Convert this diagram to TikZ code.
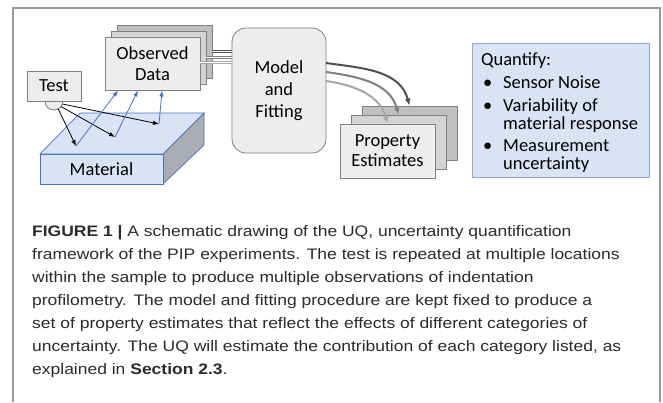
\documentclass[tikz,border=0pt]{standalone}
\usepackage{fontspec}
\setmainfont{Liberation Sans}
\newfontfamily\diagfont{Carlito}
\newfontfamily\capfont{Liberation Sans}[FakeStretch=1.15]
\usetikzlibrary{arrows.meta}
\definecolor{boxgray}{HTML}{EDEDED}
\definecolor{midgray}{HTML}{D4D4D4}
\definecolor{backgray}{HTML}{BFBFBF}
\definecolor{edgegray}{HTML}{7F7F7F}
\definecolor{paleblue}{HTML}{DAE3F3}
\definecolor{blueedge}{HTML}{8FAADC}
\definecolor{arrowblue}{HTML}{4472C4}
\definecolor{sidegray}{HTML}{A9ACB3}
\definecolor{captext}{HTML}{2B2B2B}
\definecolor{framegray}{HTML}{9A9A9A}
\definecolor{linkdark}{HTML}{505050}
\definecolor{linkmid}{HTML}{7F7F7F}
\definecolor{linklight}{HTML}{A6A6A6}
\begin{document}
\begin{tikzpicture}[x=1pt,y=-1pt,
  dfont/.style={font=\diagfont\fontsize{18.5}{22}\selectfont},
  gbox/.style={draw=edgegray, line width=0.8pt, fill=boxgray, dfont, align=center, inner sep=0pt},
  dtext/.style={dfont, anchor=base west, inner sep=0pt},
  captxt/.style={font=\capfont\fontsize{15.2}{23}\selectfont, text=captext, anchor=base west, inner sep=0pt},
  hitarrow/.style={draw=black, line width=0.8pt, -{Latex[length=6pt,width=4.5pt]}},
  obsarrow/.style={draw=arrowblue, line width=0.8pt, -{Latex[length=6pt,width=4.5pt]}},
  link/.style={double=white, line width=0.7pt, double distance=1.2pt},
  curvearrow/.style={line width=2pt, -{Latex[length=7pt,width=6pt]}}
]
\useasboundingbox (0,0) rectangle (663,402);
\fill[white] (0,0) rectangle (663,402);
% outer frame
\draw[framegray, line width=1.4pt] (13,402) -- (13,8) -- (660,8) -- (660,402);

% material block
\fill[paleblue, draw=arrowblue, line width=0.7pt] (40,154) -- (80,113) -- (204,113) -- (163,154) -- cycle;
\fill[sidegray, draw=arrowblue, line width=0.7pt] (163,154) -- (204,113) -- (204,145) -- (163,184) -- cycle;
\node[draw=arrowblue, fill=paleblue, line width=0.7pt, minimum width=123pt, minimum height=30pt, dfont, inner sep=0pt] (mat) at (101.5,169) {Material};

% test probe
\draw[fill=boxgray, draw=edgegray, line width=0.8pt] (45,101) arc[start angle=180, end angle=360, radius=9pt];
\node[gbox, minimum width=54pt, minimum height=30pt] (test) at (54,86) {Test};

% observed data stack
\node[gbox, fill=backgray, minimum width=95pt, minimum height=53pt] (obsback) at (164.5,51.5) {};
\node[gbox, fill=midgray, minimum width=95pt, minimum height=53pt] (obsmid) at (158.5,57.5) {};
\node[gbox, minimum width=95pt, minimum height=53pt] (obs) at (152.5,63.5) {Observed\\[-1pt]Data};

% model
\node[gbox, rounded corners=14pt, minimum width=94pt, minimum height=125pt] (model) at (279,90.5) {Model\\and\\Fitting};

% property estimates stack
\node[gbox, fill=backgray, minimum width=95pt, minimum height=54pt] (propback) at (409.5,133) {};
\node[gbox, fill=midgray, minimum width=95pt, minimum height=54pt] (propmid) at (398.5,142) {};
\node[gbox, minimum width=95pt, minimum height=54pt] (prop) at (387.5,151) {Property\\[-2pt]Estimates};

% quantify box
\node[draw=blueedge, fill=paleblue, line width=1pt, minimum width=177pt, minimum height=134pt] (quant) at (560.5,110) {};
\node[dtext] (q0) at (481,65) {Quantify:};
\node[dtext] (b1) at (483,88) {•};
\node[dtext] (q1) at (503,88) {Sensor Noise};
\node[dtext] (b2) at (483,111) {•};
\node[dtext] (q2) at (503,111) {Variability of};
\node[dtext] (q2b) at (503,129) {material response};
\node[dtext] (b3) at (483,151) {•};
\node[dtext] (q3) at (503,151) {Measurement};
\node[dtext] (q3b) at (503,169) {uncertainty};

% coordinates for connectors
\coordinate (s1) at (58,108.5);
\coordinate (s2) at (61,106.5);
\coordinate (s3) at (62.5,104);
\coordinate (h1) at (76,146);
\coordinate (h2) at (115,137);
\coordinate (h3) at (159,124);
\coordinate (o1) at (118,90.5);
\coordinate (o2) at (138,90.5);
\coordinate (o3) at (162,90.5);
\coordinate (m1) at (326,63);
\coordinate (m2) at (326,72);
\coordinate (m3) at (326,81);

% test arrows
\draw[hitarrow] (s1) -- (h1);
\draw[hitarrow] (s2) -- (h2);
\draw[hitarrow] (s3) -- (h3);
% reflected arrows
\draw[obsarrow] (h1) -- (o1);
\draw[obsarrow] (h2) -- (o2);
\draw[obsarrow] (h3) -- (o3);

% links to model
\draw[link, draw=linkdark] (obsback.east) -- (obsback.east -| model.west);
\draw[link, draw=linkmid] (obsmid.east) -- (obsmid.east -| model.west);
\draw[link, draw=linklight] ([yshift=1pt]obs.east) -- ([yshift=1pt]obs.east -| model.west);

% curved arrows to estimates
\draw[curvearrow, linkdark] (m1) to[out=-8, in=105] (propback.north);
\draw[curvearrow, linkmid] (m2) to[out=-8, in=105] (propmid.north);
\draw[curvearrow, linklight] (m3) to[out=-8, in=105] (prop.north);

% caption
\node[captxt] (c1) at (32,236) {\textbf{FIGURE 1 |} A schematic drawing of the UQ, uncertainty quantification};
\node[captxt] (c2) at (32,259) {framework of the PIP experiments. The test is repeated at multiple locations};
\node[captxt] (c3) at (32,282) {within the sample to produce multiple observations of indentation};
\node[captxt] (c4) at (32,305) {profilometry. The model and fitting procedure are kept fixed to produce a};
\node[captxt] (c5) at (32,328) {set of property estimates that reflect the effects of different categories of};
\node[captxt] (c6) at (32,351) {uncertainty. The UQ will estimate the contribution of each category listed, as};
\node[captxt] (c7) at (32,374) {explained in \textbf{Section 2.3}.};
\end{tikzpicture}
\end{document}
